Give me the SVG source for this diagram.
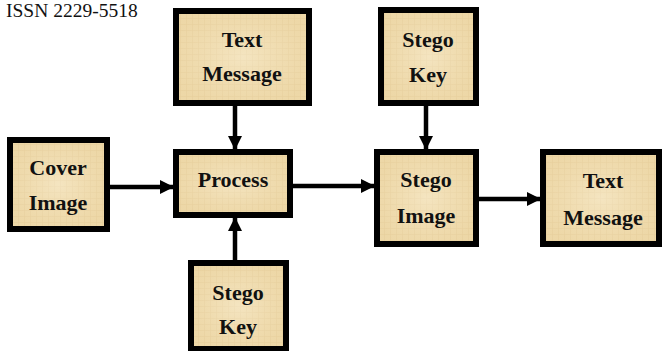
<svg xmlns="http://www.w3.org/2000/svg" width="662" height="351" viewBox="0 0 662 351">
  <defs>
    <pattern id="paper" width="6" height="6" patternUnits="userSpaceOnUse">
      <rect width="6" height="6" fill="#f0dcae"/>
      <path d="M0 0.5H6M0.5 0V6" stroke="#e2c995" stroke-width="0.7" opacity="0.6"/>
    </pattern>
    <radialGradient id="glow" cx="50%" cy="50%" r="60%">
      <stop offset="0" stop-color="#f8ecd0" stop-opacity="0.55"/>
      <stop offset="1" stop-color="#e8cf9a" stop-opacity="0.35"/>
    </radialGradient>
    <marker id="head" viewBox="0 0 14 14" refX="13" refY="7" markerWidth="14" markerHeight="14" markerUnits="userSpaceOnUse" orient="auto">
      <path d="M0 0L14 7L0 14Z" fill="#000"/>
    </marker>
  </defs>
  <style>
    .box rect.b { fill: url(#paper); stroke: #000; stroke-width: 6; }
    .box rect.g { fill: url(#glow); stroke: none; }
    .box text { font-family: "Liberation Serif", "Times New Roman", serif; font-weight: bold; font-size: 22px; fill: #111; text-anchor: middle; }
    .edge { stroke: #000; stroke-width: 4.5; fill: none; marker-end: url(#head); }
    .hdr { font-family: "Liberation Serif", "Times New Roman", serif; font-size: 19.5px; fill: #111; }
  </style>

  <rect width="662" height="351" fill="#fff"/>
  <text class="hdr" x="6" y="17">ISSN 2229-5518</text>

  <g id="connectors">
    <line class="edge" x1="235" y1="106" x2="235" y2="149"/>
    <line class="edge" x1="110" y1="187" x2="173" y2="187"/>
    <line class="edge" x1="235" y1="260" x2="235" y2="218"/>
    <line class="edge" x1="293" y1="186" x2="374" y2="186"/>
    <line class="edge" x1="426" y1="106" x2="426" y2="149"/>
    <line class="edge" x1="479" y1="199" x2="540" y2="199"/>
  </g>

  <g id="text-message-in" class="box">
    <rect class="b" x="176" y="11" width="133" height="92"/>
    <rect class="g" x="179" y="14" width="127" height="86"/>
    <text x="242" y="47">Text</text>
    <text x="242" y="81">Message</text>
  </g>

  <g id="cover-image" class="box">
    <rect class="b" x="10" y="140" width="97" height="89"/>
    <rect class="g" x="13" y="143" width="91" height="83"/>
    <text x="58" y="175">Cover</text>
    <text x="58" y="210">Image</text>
  </g>

  <g id="process" class="box">
    <rect class="b" x="176" y="152" width="114" height="63"/>
    <rect class="g" x="179" y="155" width="108" height="57"/>
    <text x="233" y="187">Process</text>
  </g>

  <g id="stego-key-embed" class="box">
    <rect class="b" x="191" y="263" width="95" height="86"/>
    <rect class="g" x="194" y="266" width="89" height="80"/>
    <text x="238" y="300">Stego</text>
    <text x="238" y="334">Key</text>
  </g>

  <g id="stego-key-extract" class="box">
    <rect class="b" x="381" y="10" width="95" height="93"/>
    <rect class="g" x="384" y="13" width="89" height="87"/>
    <text x="428" y="47">Stego</text>
    <text x="428" y="82">Key</text>
  </g>

  <g id="stego-image" class="box">
    <rect class="b" x="377" y="152" width="99" height="92"/>
    <rect class="g" x="380" y="155" width="93" height="86"/>
    <text x="426" y="187">Stego</text>
    <text x="426" y="223">Image</text>
  </g>

  <g id="text-message-out" class="box">
    <rect class="b" x="543" y="152" width="116" height="92"/>
    <rect class="g" x="546" y="155" width="110" height="86"/>
    <text x="603" y="188">Text</text>
    <text x="603" y="225">Message</text>
  </g>
</svg>
